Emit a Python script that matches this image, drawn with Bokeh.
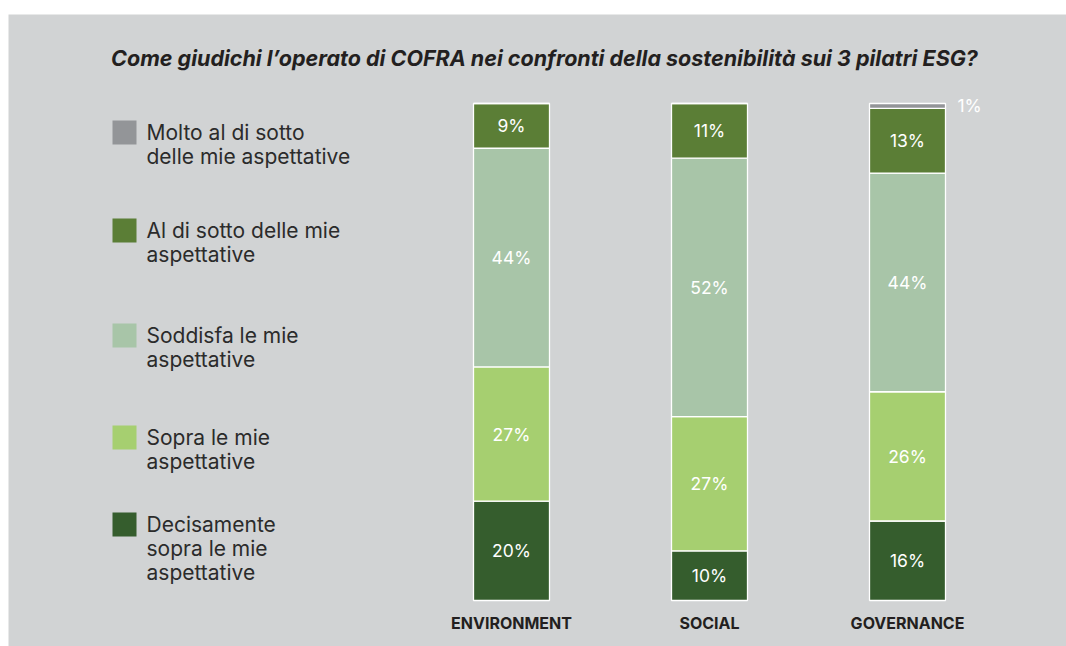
from bokeh.plotting import figure
from bokeh.models import Range1d, ColumnDataSource, Spacer
from bokeh.layouts import column, row
from bokeh.embed import file_html
from bokeh.resources import INLINE
from bokeh.core.properties import value

# ---- data ----
categories = ["ENVIRONMENT", "SOCIAL", "GOVERNANCE"]
series_names = [
    "Decisamente\nsopra le mie\naspettative",
    "Sopra le mie\naspettative",
    "Soddisfa le mie\naspettative",
    "Al di sotto delle mie\naspettative",
    "Molto al di sotto\ndelle mie aspettative",
]
decisamente_sopra = [20, 10, 16]
sopra = [27, 27, 26]
soddisfa = [44, 52, 44]
al_di_sotto = [9, 11, 13]
molto_al_di_sotto = [0, 0, 1]
title_text = "Come giudichi l’operato di COFRA nei confronti della sostenibilità sui 3 pilatri ESG?"

series = [decisamente_sopra, sopra, soddisfa, al_di_sotto, molto_al_di_sotto]
colors = ["#355d2d", "#a6cf70", "#a8c5a8", "#5b7e36", "#939598"]

BG = "#d1d3d4"
FONT = "Inter"

LEFT_OFF, TOP_OFF = 8, 14
W, H = 1066 - LEFT_OFF, 646 - TOP_OFF

def ydata(page_y):
    # bar scale: 0% at page y 600, 100% at page y 103
    return (600 - page_y) / 4.97

p = figure(width=W, height=H, output_backend="svg", toolbar_location=None,
           x_range=Range1d(LEFT_OFF, LEFT_OFF + W),
           y_range=Range1d(ydata(TOP_OFF + H), ydata(TOP_OFF)),
           min_border=0, min_border_left=0, min_border_right=0,
           min_border_top=0, min_border_bottom=0)
p.axis.visible = False
p.grid.visible = False
p.outline_line_color = None
p.background_fill_color = BG
p.border_fill_color = BG

bar_x = [511 + 198 * i for i in range(len(categories))]
bar_w = 76

# stacked bars
bottoms = [0.0] * len(categories)
lab_x, lab_y, lab_t = [], [], []
out_x, out_y, out_t = [], [], []
for vals, col in zip(series, colors):
    tops = [b + v for b, v in zip(bottoms, vals)]
    src = ColumnDataSource(dict(x=bar_x, bottom=bottoms, top=tops))
    p.vbar(x="x", bottom="bottom", top="top", width=bar_w, source=src,
           fill_color=col, line_color="white", line_width=1.3)
    for xi, b, t, v in zip(bar_x, bottoms, tops, vals):
        if v <= 0:
            continue
        if v >= 5:
            lab_x.append(xi); lab_y.append((b + t) / 2); lab_t.append(f"{v}%")
        else:
            out_x.append(xi + bar_w / 2 + 12); out_y.append((b + t) / 2); out_t.append(f"{v}%")
    bottoms = tops

p.text(x=lab_x, y=lab_y, text=lab_t, text_color="white", text_font=value(FONT),
       text_font_size="17.5px", text_align="center", text_baseline="middle")
p.text(x=out_x, y=out_y, text=out_t, text_color="white", text_font=value(FONT),
       text_font_size="17.5px", text_align="left", text_baseline="middle", y_offset=0)

# category labels
p.text(x=bar_x, y=[0] * len(categories), text=categories, text_color="#231f20",
       text_font=value(FONT), text_font_size="16px", text_font_style="bold",
       text_align="center", text_baseline="middle", y_offset=22)

# title
p.text(x=[544], y=[ydata(57)], text=[title_text], text_color="#231f20",
       text_font=value(FONT), text_font_size="21.5px", text_font_style="bold italic",
       text_align="center", text_baseline="middle")

# legend (manual, top to bottom)
leg_tops = [120, 218, 323, 425, 512]
leg_order = list(range(len(series_names)))[::-1]
sq_x, sq_y, sq_c, tx, ty, tt = [], [], [], [], [], []
for top_y, idx in zip(leg_tops, leg_order):
    sq_x.append(124); sq_y.append(ydata(top_y + 12)); sq_c.append(colors[idx])
    tx.append(146); ty.append(ydata(top_y - 1)); tt.append(series_names[idx])
p.scatter(x=sq_x, y=sq_y, marker="square", size=24, fill_color=sq_c, line_color=None)
p.text(x=tx, y=ty, text=tt, text_color="#2b2b2b", text_font=value(FONT),
       text_font_size="21px", text_align="left", text_baseline="top",
       text_line_height=0.96)

layout = row(Spacer(width=LEFT_OFF), column(Spacer(height=TOP_OFF), p, spacing=0), spacing=0)
open("out.html", "w").write(file_html(layout, INLINE))
